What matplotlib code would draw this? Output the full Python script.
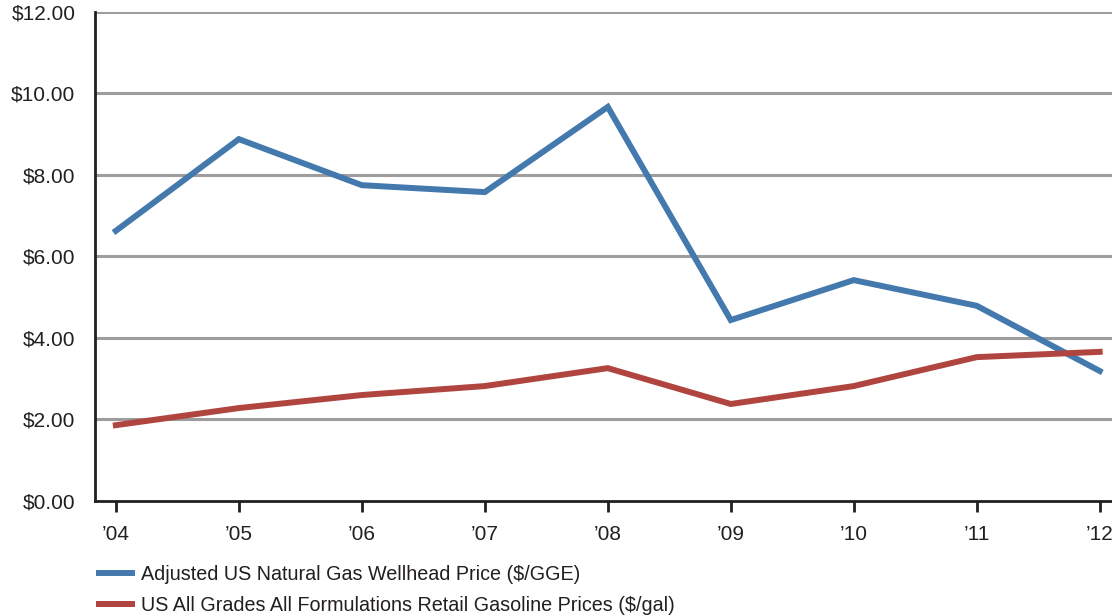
import numpy as np
import matplotlib
matplotlib.use("Agg")
import matplotlib.pyplot as plt
from matplotlib.ticker import FuncFormatter

plt.rcParams['font.family'] = ['Liberation Sans', 'DejaVu Sans']

years = ["\u201904", "\u201905", "\u201906", "\u201907", "\u201908", "\u201909", "\u201910", "\u201911", "\u201912"]
natgas = [6.63, 8.88, 7.75, 7.58, 9.67, 4.44, 5.42, 4.79, 3.19]
gasoline = [1.86, 2.28, 2.60, 2.82, 3.26, 2.38, 2.82, 3.53, 3.66]
labels = ["Adjusted US Natural Gas Wellhead Price ($/GGE)",
          "US All Grades All Formulations Retail Gasoline Prices ($/gal)"]

blue = '#4479ae'
red = '#b0453f'

fig = plt.figure(figsize=(11.12, 6.15), dpi=100)
ax = fig.add_axes([0.0854, 0.1854, 0.9146, 0.7951])

x = np.arange(len(years))
l1, = ax.plot(x, natgas, color=blue, lw=4.3, solid_joinstyle='miter', zorder=3)
l2, = ax.plot(x, gasoline, color=red, lw=4.3, solid_joinstyle='miter', zorder=3)

ax.set_xlim(-0.17, 8.1)
ax.set_ylim(0, 12)
ax.set_yticks(np.arange(0, 13, 2))
ax.yaxis.set_major_formatter(FuncFormatter(lambda v, p: '$%.2f' % v))
ax.set_xticks(x)
ax.set_xticklabels(years)

# gray gridlines (no line at zero, the spine covers it)
for v in range(2, 13, 2):
    ax.axhline(v, color='#9d9d9d', lw=2.2, zorder=1)

for s in ['top', 'right']:
    ax.spines[s].set_visible(False)
for s in ['left', 'bottom']:
    ax.spines[s].set_color('#231f20')
    ax.spines[s].set_linewidth(2)

ax.tick_params(axis='y', length=0, pad=14, labelsize=15, colors='#231f20')
ax.tick_params(axis='x', length=8, width=2, direction='out', pad=9, labelsize=15, colors='#231f20')

fig.legend([l1, l2], labels, loc='center left', bbox_to_anchor=(0.0735, 0.041), frameon=False,
           fontsize=14.2, handlelength=1.65, handletextpad=0.45, labelspacing=0.6,
           labelcolor='#231f20')

fig.savefig("out.png", dpi=100)
